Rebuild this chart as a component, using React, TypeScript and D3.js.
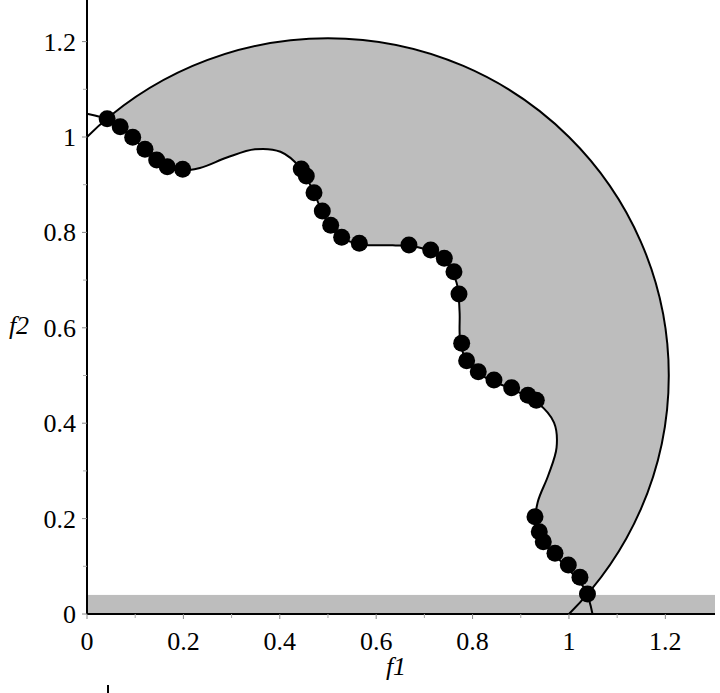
import React from "react";
import * as d3 from "d3";

// Inner (wavy) constraint boundary points
const innerF1 = [
  0, 0.05077, 0.09802, 0.14145, 0.18508, 0.23423, 0.29029, 0.3486, 0.40136,
  0.44241, 0.4714, 0.4956, 0.52706, 0.57425, 0.63439, 0.6949, 0.74162,
  0.7667, 0.77301, 0.77429, 0.7888, 0.82685, 0.88192, 0.9354, 0.96898,
  0.97426, 0.95694, 0.93511, 0.93045, 0.95357, 0.99518, 1.0335, 1.0488,
];
const innerF2 = [
  1.0488, 1.0335, 0.99518, 0.95357, 0.93045, 0.93511, 0.95694, 0.97426,
  0.96898, 0.9354, 0.88192, 0.82685, 0.7888, 0.77429, 0.77301, 0.7667,
  0.74162, 0.6949, 0.63439, 0.57425, 0.52706, 0.4956, 0.4714, 0.44241,
  0.40136, 0.3486, 0.29029, 0.23423, 0.18508, 0.14145, 0.09802, 0.05077, 0,
];

// Outer circular boundary
const circleRadius = 0.7071;
const circleStart = [0, 1];
const circleEnd = [1, 0];
// Where the two boundaries meet
const cornerA = [0.0418, 1.0384];
const cornerB = [1.0384, 0.0418];

// Pareto points
const paretoF1 = [
  0.0418, 0.0689, 0.0948, 0.1203, 0.1446, 0.1666, 0.1985,
  0.4445, 0.455, 0.471, 0.4882, 0.5056, 0.5284, 0.565, 0.668, 0.7131, 0.7413,
  0.7614, 0.7718, 0.7774, 0.7877, 0.8118, 0.8444, 0.8811, 0.9149, 0.9322,
  0.9295, 0.9384, 0.9467, 0.971, 0.9986, 1.0228, 1.0384,
];
const paretoF2 = [
  1.0384, 1.0216, 0.9995, 0.9741, 0.9518, 0.9378, 0.9322,
  0.9327, 0.918, 0.8832, 0.8449, 0.8148, 0.7897, 0.7771, 0.7736, 0.7631, 0.7457,
  0.7174, 0.6709, 0.5675, 0.531, 0.508, 0.4906, 0.4744, 0.4586, 0.4481,
  0.204, 0.1726, 0.1516, 0.1273, 0.1027, 0.0769, 0.0418,
];

// Shaded band along the f1 axis
const bandTop = 0.04;
const bandRight = 1.303;

const majorTicks = [0, 0.2, 0.4, 0.6, 0.8, 1, 1.2];
const majorLabels = ["0", "0.2", "0.4", "0.6", "0.8", "1", "1.2"];
const minorTicks = [0.1, 0.3, 0.5, 0.7, 0.9, 1.1];

const W = 720;
const H = 693;
const FONT = "Liberation Serif";
const GRAY = "#bdbdbd";

export default function App() {
  const x = d3.scaleLinear().domain([0, 1.303]).range([87, 715]);
  const y = d3.scaleLinear().domain([0, 1.3]).range([614, -6.1]);

  const innerPts: [number, number][] = innerF1.map((v, i) => [v, innerF2[i]]);
  const line = d3
    .line<[number, number]>()
    .x((d) => x(d[0]))
    .y((d) => y(d[1]))
    .curve(d3.curveCatmullRom.alpha(0.5));

  const rx = x(circleRadius) - x(0);
  const ry = y(0) - y(circleRadius);

  const backPts: [number, number][] = [
    [cornerB[0], cornerB[1]],
    ...innerPts.slice(1, 32).reverse(),
    [cornerA[0], cornerA[1]],
  ];
  const back = (line(backPts) || "").replace(/^M/, "L");
  const fillPath =
    `M${x(cornerA[0])},${y(cornerA[1])} A${rx},${ry} 0 0 1 ${x(cornerB[0])},${y(cornerB[1])} ` +
    back +
    "Z";
  const circlePath = `M${x(circleStart[0])},${y(circleStart[1])} A${rx},${ry} 0 0 1 ${x(circleEnd[0])},${y(circleEnd[1])}`;
  const innerPath = line(innerPts) || "";

  return (
    <svg
      width={W}
      height={H}
      style={{ position: "absolute", left: 0, top: 0, background: "#fff" }}
    >
      <rect
        x={x(0)}
        y={y(bandTop)}
        width={x(bandRight) - x(0)}
        height={y(0) - y(bandTop)}
        fill={GRAY}
      />
      <path d={fillPath} fill={GRAY} stroke="none" />
      <path d={circlePath} fill="none" stroke="#000" strokeWidth={2} />
      <path d={innerPath} fill="none" stroke="#000" strokeWidth={2} />

      {paretoF1.map((v, i) => (
        <circle key={i} cx={x(v)} cy={y(paretoF2[i])} r={8.5} fill="#000" />
      ))}

      <line x1={x(0)} x2={x(0)} y1={0} y2={y(0)} stroke="#000" strokeWidth={2} />
      <line x1={x(0)} x2={x(bandRight)} y1={y(0)} y2={y(0)} stroke="#000" strokeWidth={2} />

      {majorTicks.map((t, i) => (
        <g key={"y" + i}>
          <line x1={x(0) - 5} x2={x(0)} y1={y(t)} y2={y(t)} stroke="#888" strokeWidth={1} />
          <text
            x={76}
            y={y(t) + 9}
            textAnchor="end"
            fontFamily={FONT}
            fontSize={26}
            fill="#000"
          >
            {majorLabels[i]}
          </text>
        </g>
      ))}
      {minorTicks.map((t, i) => (
        <line key={"ym" + i} x1={x(0) - 4} x2={x(0)} y1={y(t)} y2={y(t)} stroke="#aaa" strokeWidth={1} />
      ))}
      {majorTicks.map((t, i) => (
        <g key={"x" + i}>
          <line x1={x(t)} x2={x(t)} y1={y(0)} y2={y(0) + 5} stroke="#888" strokeWidth={1} />
          <text
            x={x(t)}
            y={650}
            textAnchor="middle"
            fontFamily={FONT}
            fontSize={26}
            fill="#000"
          >
            {majorLabels[i]}
          </text>
        </g>
      ))}
      {minorTicks.map((t, i) => (
        <line key={"xm" + i} x1={x(t)} x2={x(t)} y1={y(0)} y2={y(0) + 4} stroke="#aaa" strokeWidth={1} />
      ))}

      <text
        x={396}
        y={675}
        textAnchor="middle"
        fontFamily={FONT}
        fontStyle="italic"
        fontSize={26}
        fill="#000"
      >
        f1
      </text>
      <text
        x={19}
        y={334}
        textAnchor="middle"
        fontFamily={FONT}
        fontStyle="italic"
        fontSize={26}
        fill="#000"
      >
        f2
      </text>
      <line x1={108} x2={108} y1={685} y2={693} stroke="#000" strokeWidth={2} />
    </svg>
  );
}
